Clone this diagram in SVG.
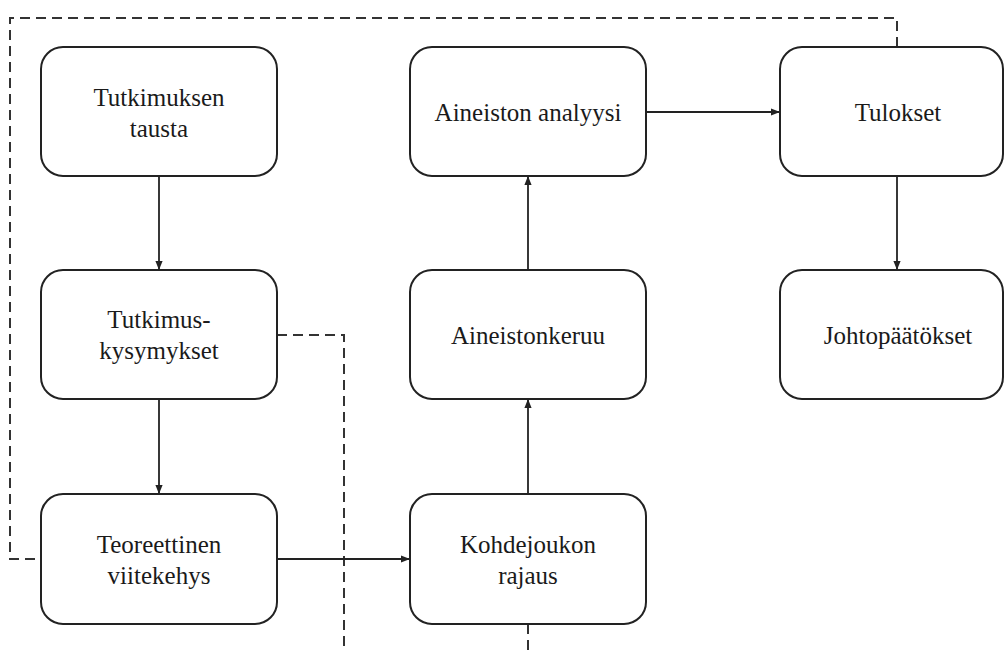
<svg xmlns="http://www.w3.org/2000/svg" width="1005" height="650" viewBox="0 0 1005 650">
<defs>
<style>
.box{fill:#fff;stroke:#222;stroke-width:2}
text{font-family:'Liberation Serif','DejaVu Serif',serif;font-size:25px;fill:#1a1a1a;text-anchor:middle}
.edge{fill:none;stroke:#222;stroke-width:1.8}
.dash{fill:none;stroke:#333;stroke-width:2;stroke-dasharray:10 6}
</style>
<marker id="arr" viewBox="0 0 10 10" refX="10" refY="5" markerWidth="9" markerHeight="9" markerUnits="userSpaceOnUse" orient="auto">
<path d="M0,1 L10,5 L0,9 Z" fill="#222"/>
</marker>
</defs>
<rect width="1005" height="650" fill="#fff"/>
<g id="connectors">
<path class="dash" d="M897,47 V18 H10 V559 H41"/>
<path class="dash" d="M277,335 H344 V650"/>
<path class="dash" d="M528,624 V650"/>
<path class="edge" d="M159,176 V270" marker-end="url(#arr)"/>
<path class="edge" d="M159,399 V494" marker-end="url(#arr)"/>
<path class="edge" d="M277,559 H410" marker-end="url(#arr)"/>
<path class="edge" d="M528,494 V399" marker-end="url(#arr)"/>
<path class="edge" d="M528,270 V176" marker-end="url(#arr)"/>
<path class="edge" d="M646,112 H780" marker-end="url(#arr)"/>
<path class="edge" d="M897,176 V270" marker-end="url(#arr)"/>
</g>
<g id="n1"><rect class="box" x="41" y="47" width="236" height="129" rx="22"/><text x="159" y="106">Tutkimuksen</text><text x="159" y="137">tausta</text></g>
<g id="n2"><rect class="box" x="41" y="270" width="236" height="129" rx="22"/><text x="159" y="328">Tutkimus-</text><text x="159" y="359">kysymykset</text></g>
<g id="n3"><rect class="box" x="41" y="494" width="236" height="130" rx="22"/><text x="159" y="553">Teoreettinen</text><text x="159" y="584">viitekehys</text></g>
<g id="n4"><rect class="box" x="410" y="494" width="236" height="130" rx="22"/><text x="528" y="553">Kohdejoukon</text><text x="528" y="584">rajaus</text></g>
<g id="n5"><rect class="box" x="410" y="270" width="236" height="129" rx="22"/><text x="528" y="344">Aineistonkeruu</text></g>
<g id="n6"><rect class="box" x="410" y="47" width="236" height="129" rx="22"/><text x="528" y="121">Aineiston analyysi</text></g>
<g id="n7"><rect class="box" x="780" y="47" width="223" height="129" rx="22"/><text x="898" y="121">Tulokset</text></g>
<g id="n8"><rect class="box" x="780" y="270" width="223" height="129" rx="22"/><text x="898" y="344">Johtopäätökset</text></g>
</svg>
